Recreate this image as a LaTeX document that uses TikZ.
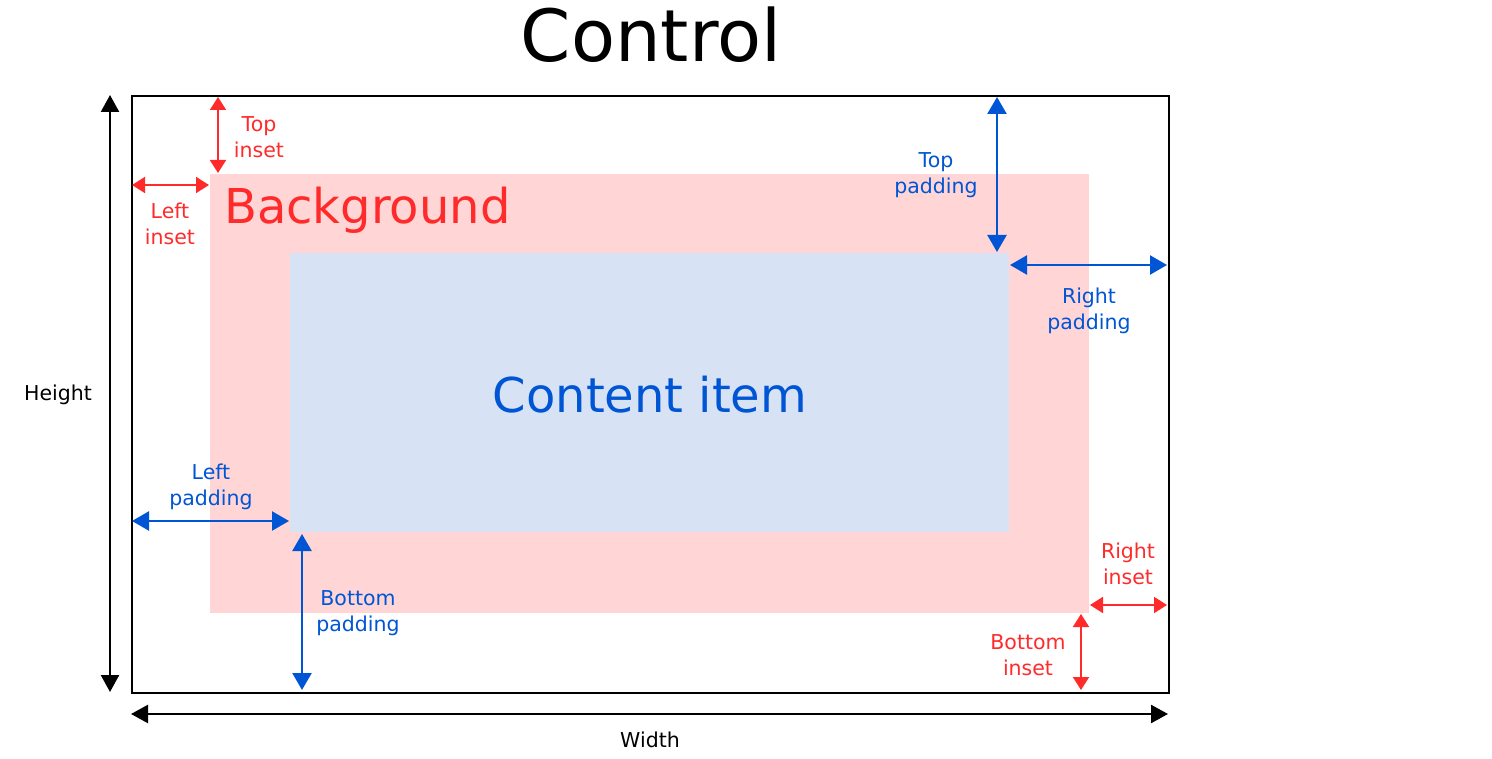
\documentclass[tikz,border=0pt]{standalone}
\usepackage{fontspec}
\setmainfont{DejaVu Sans}
\usetikzlibrary{arrows.meta}
\definecolor{cred}{HTML}{FF2A2A}
\definecolor{cblue}{HTML}{0055D4}
\definecolor{cpink}{HTML}{FFD5D5}
\definecolor{clblue}{HTML}{D7E3F4}
\tikzset{
  blkarrow/.style={line width=2.4pt, black, {Triangle[width=18pt,length=17pt]}-{Triangle[width=18pt,length=17pt]}},
  bluearrow/.style={line width=2.4pt, cblue, {Triangle[width=19pt,length=17pt]}-{Triangle[width=19pt,length=17pt]}},
  redarrow/.style={line width=1.9pt, cred, {Triangle[width=16pt,length=13pt]}-{Triangle[width=16pt,length=13pt]}},
  lbl/.style={font=\fontsize{20.5}{26}\selectfont, align=center, inner sep=0pt},
  big/.style={font=\fontsize{48}{56}\selectfont, inner sep=0pt},
}
\begin{document}
\begin{tikzpicture}[x=1pt,y=-1pt]
\useasboundingbox (0,0) rectangle (1492,759);
% rectangles
\node[fill=cpink, draw=none, minimum width=879pt, minimum height=439pt, anchor=north west, inner sep=0pt] (bg) at (210,174) {};
\node[fill=clblue, draw=none, minimum width=719pt, minimum height=279pt, anchor=north west, inner sep=0pt] (content) at (290,253) {};
\node[draw=black, line width=2.4pt, minimum width=1037pt, minimum height=597pt, anchor=north west, inner sep=0pt] (ctrl) at (131,95) {};
% titles
\node[font=\fontsize{72}{80}\selectfont, inner sep=0pt] (title) at (651,35) {Control};
\node[big, text=cred, anchor=west] (bgtext) at (224,210) {Background};
\node[big, text=cblue] (cttext) at (650,395) {Content item};
% coordinates for dimension arrows
\coordinate (h1) at (110,95);  \coordinate (h2) at (110,692);
\coordinate (w1) at (131,714); \coordinate (w2) at (1168,714);
\coordinate (ti1) at (218,97); \coordinate (ti2) at (218,173);
\coordinate (li1) at (132,185); \coordinate (li2) at (209,185);
\coordinate (tp1) at (997,97); \coordinate (tp2) at (997,252);
\coordinate (rp1) at (1010,265); \coordinate (rp2) at (1167,265);
\coordinate (lp1) at (132,521); \coordinate (lp2) at (289,521);
\coordinate (bp1) at (302,534); \coordinate (bp2) at (302,690);
\coordinate (ri1) at (1090,605); \coordinate (ri2) at (1167,605);
\coordinate (bi1) at (1081,614); \coordinate (bi2) at (1081,690);
% arrows
\draw[blkarrow] (h1) -- (h2);
\draw[blkarrow] (w1) -- (w2);
\draw[redarrow] (ti1) -- (ti2);
\draw[redarrow] (li1) -- (li2);
\draw[redarrow] (ri1) -- (ri2);
\draw[redarrow] (bi1) -- (bi2);
\draw[bluearrow] (tp1) -- (tp2);
\draw[bluearrow] (rp1) -- (rp2);
\draw[bluearrow] (lp1) -- (lp2);
\draw[bluearrow] (bp1) -- (bp2);
% labels
\node[lbl] (lh) at (58,395) {Height};
\node[lbl] (lw) at (650,740) {Width};
\node[lbl, text=cred] (lti) at (259,137) {Top\\inset};
\node[lbl, text=cred] (lli) at (170,224) {Left\\inset};
\node[lbl, text=cred] (lri) at (1128,564) {Right\\inset};
\node[lbl, text=cred] (lbi) at (1028,655) {Bottom\\inset};
\node[lbl, text=cblue] (ltp) at (936,175) {Top\\padding};
\node[lbl, text=cblue] (lrp) at (1089,311) {Right\\padding};
\node[lbl, text=cblue] (llp) at (211,487) {Left\\padding};
\node[lbl, text=cblue] (lbp) at (358,613) {Bottom\\padding};
\end{tikzpicture}
\end{document}
